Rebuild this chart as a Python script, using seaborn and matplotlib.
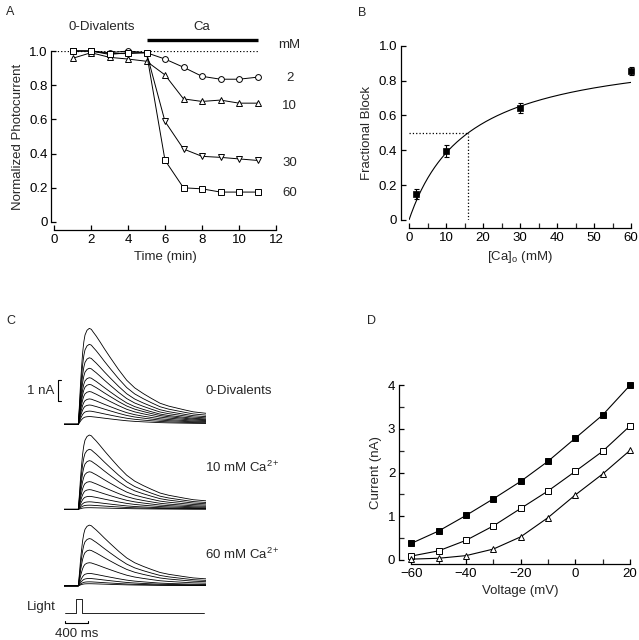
import numpy as np
import pandas as pd
import matplotlib
matplotlib.use("Agg")
import matplotlib.pyplot as plt
import seaborn as sns

# ---- Panel A: normalized photocurrent vs time ----
time_min = [1, 2, 3, 4, 5, 6, 7, 8, 9, 10, 11]
ca_2mM = [1.0, 1.0, 0.99, 1.0, 0.99, 0.953, 0.905, 0.852, 0.835, 0.835, 0.847]
ca_10mM = [0.957, 0.99, 0.963, 0.953, 0.94, 0.86, 0.72, 0.705, 0.713, 0.695, 0.695]
ca_30mM = [1.0, 1.0, 0.985, 0.985, 0.99, 0.588, 0.427, 0.384, 0.378, 0.369, 0.36]
ca_60mM = [1.0, 1.0, 0.98, 0.99, 0.99, 0.361, 0.2, 0.194, 0.175, 0.175, 0.175]
conc_labels = ["2", "10", "30", "60"]
conc_label_y = [0.84, 0.68, 0.345, 0.17]

# ---- Panel B: fractional block vs [Ca]o ----
ca_conc = [2, 10, 30, 60]
frac_block = [0.149, 0.398, 0.644, 0.855]
frac_err = [0.03, 0.035, 0.028, 0.025]
k_half = 16.0  # half-block concentration (mM) from the fit

# ---- Panel C: photocurrent families ----
# normalized response waveform
shape_t = [0, 249, 270, 290, 310, 325, 345, 365, 400, 440, 475, 510, 560, 626,
           700, 800, 950, 1090, 1230, 1380, 1520, 1670, 1820, 1960, 2100, 2250, 2470]
shape_frac = [0, 0, 0.22, 0.45, 0.63, 0.75, 0.86, 0.93, 0.98, 1.0, 0.99, 0.96, 0.92, 0.86,
              0.79, 0.70, 0.57, 0.46, 0.38, 0.32, 0.27, 0.22, 0.19, 0.17, 0.15, 0.13, 0.115]
peaks_0div = [4.57, 3.81, 3.17, 2.67, 2.22, 1.90, 1.56, 1.21, 0.92, 0.63, 0.37]
peaks_10ca = [3.54, 2.86, 2.32, 1.79, 1.32, 0.94, 0.62, 0.36, 0.20, 0.08]
peaks_60ca = [2.89, 2.25, 1.70, 1.10, 0.59, 0.35, 0.19, 0.10]
light_t = [17, 209, 209, 308, 308, 2440]
light_on = [0, 0, 1, 1, 0, 0]

# ---- Panel D: I-V relations ----
voltage = [-60, -50, -40, -30, -20, -10, 0, 10, 20]
iv_0div = [0.38, 0.664, 1.02, 1.40, 1.80, 2.26, 2.79, 3.32, 4.0]
iv_10ca = [0.09, 0.21, 0.45, 0.78, 1.18, 1.58, 2.03, 2.49, 3.07]
iv_60ca = [0.02, 0.04, 0.10, 0.25, 0.53, 0.97, 1.49, 1.97, 2.51]

sns.set_theme(style="ticks")
plt.rcParams["font.family"] = ["Liberation Sans", "DejaVu Sans"]
plt.rcParams["mathtext.fontset"] = "custom"
plt.rcParams["mathtext.rm"] = "Liberation Sans"
plt.rcParams["mathtext.it"] = "Liberation Sans"
plt.rcParams["xtick.direction"] = "in"
plt.rcParams["ytick.direction"] = "in"
plt.rcParams["axes.linewidth"] = 0.9
plt.rcParams["xtick.major.width"] = 0.9
plt.rcParams["ytick.major.width"] = 0.9
plt.rcParams["xtick.minor.width"] = 0.9
plt.rcParams["ytick.minor.width"] = 0.9
plt.rcParams["xtick.major.size"] = 3.5
plt.rcParams["ytick.major.size"] = 3.5
plt.rcParams["xtick.minor.size"] = 3.5
plt.rcParams["ytick.minor.size"] = 3.5
plt.rcParams["xtick.major.pad"] = 2.5
plt.rcParams["ytick.major.pad"] = 2.5

fs = 9.5
fig = plt.figure(figsize=(6.39, 6.40), dpi=100)
W, H = 639.0, 640.0


def px_axes(x0, y0, x1, y1):
    # axes from pixel corners (left, top, right, bottom) of the data area
    return fig.add_axes([x0 / W, 1 - y1 / H, (x1 - x0) / W, (y1 - y0) / H])


def style_ticks(ax):
    ax.tick_params(labelsize=fs, colors="black")
    for s in ax.spines.values():
        s.set_color("black")


# ---------------- A ----------------
axA = px_axes(54, 51, 276, 222)
axA.plot([0, 11], [1, 1], ls=":", lw=0.9, color="black")
series_A = [(ca_2mM, "o"), (ca_10mM, "^"), (ca_30mM, "v"), (ca_60mM, "s")]
for vals, mk in series_A:
    sns.lineplot(x=time_min, y=vals, ax=axA, color="black", lw=0.7, marker=mk,
                 markersize=4.2, markerfacecolor="white", markeredgecolor="black",
                 markeredgewidth=0.7, clip_on=False)
axA.set_xlim(0, 12)
axA.set_ylim(0, 1.0)
axA.set_xticks(range(0, 13, 2))
axA.set_yticks([0, 0.2, 0.4, 0.6, 0.8, 1.0])
axA.set_yticklabels(["0", "0.2", "0.4", "0.6", "0.8", "1.0"])
axA.set_xlabel("Time (min)", fontsize=fs)
axA.set_ylabel("Normalized Photocurrent", fontsize=fs)
sns.despine(ax=axA, offset={"left": 2, "bottom": 6})
style_ticks(axA)
axA.plot([5, 11], [1.064, 1.064], color="black", lw=2.4, clip_on=False,
         solid_capstyle="butt")
axA.text(2.6, 1.14, "0-Divalents", ha="center", va="center", fontsize=fs)
axA.text(8.0, 1.14, "Ca", ha="center", va="center", fontsize=fs)
axA.text(12.7, 1.035, "mM", ha="center", va="center", fontsize=fs)
for lab, yy in zip(conc_labels, conc_label_y):
    axA.text(12.75, yy, lab, ha="center", va="center", fontsize=fs)

# ---------------- B ----------------
axB = px_axes(409, 45.7, 631, 220)
ca_fit = np.linspace(0, 60, 200)
block_fit = ca_fit / (ca_fit + k_half)
sns.lineplot(x=ca_fit, y=block_fit, ax=axB, color="black", lw=0.8)
axB.plot([0, k_half], [0.5, 0.5], ls=":", lw=0.9, color="black")
axB.plot([k_half, k_half], [0, 0.5], ls=":", lw=0.9, color="black")
axB.errorbar(ca_conc, frac_block, yerr=frac_err, fmt="none", ecolor="black",
             elinewidth=0.8, capsize=1.8, capthick=0.8, clip_on=False)
sns.scatterplot(x=ca_conc, y=frac_block, ax=axB, marker="s", color="black",
                s=16, edgecolor="black", linewidth=0.5, clip_on=False, zorder=5)
axB.set_xlim(0, 60)
axB.set_ylim(0, 1.0)
axB.set_xticks(range(0, 61, 10))
axB.set_xticks(range(5, 60, 10), minor=True)
axB.set_yticks([0, 0.2, 0.4, 0.6, 0.8, 1.0])
axB.set_yticklabels(["0", "0.2", "0.4", "0.6", "0.8", "1.0"])
axB.set_xlabel("[Ca]$_{\\rm o}$ (mM)", fontsize=fs)
axB.set_ylabel("Fractional Block", fontsize=fs)
sns.despine(ax=axB, offset={"left": 6, "bottom": 6})
style_ticks(axB)

# ---------------- C ----------------
axC = px_axes(64, 325, 206, 640)
axC.set_xlim(0, 2470)
axC.set_ylim(-10.27, 4.73)
axC.axis("off")
families = [(peaks_0div, 0.0, "0-Divalents", 1.59),
            (peaks_10ca, -4.05, "10 mM Ca$^{2+}$", -2.03),
            (peaks_60ca, -7.69, "60 mM Ca$^{2+}$", -6.2)]
rows = []
for fi, (peaks, base, lab, ly) in enumerate(families):
    for ti, pk in enumerate(peaks):
        for t, f in zip(shape_t, shape_frac):
            rows.append({"t": t, "i": base + pk * f, "trace": f"{fi}-{ti}"})
    axC.text(2453, ly, lab, ha="left", va="center", fontsize=fs)
traces = pd.DataFrame(rows)
sns.lineplot(data=traces, x="t", y="i", units="trace", estimator=None,
             color="black", lw=0.6, ax=axC, sort=False)
light_base, light_h = -9.0, 0.67
axC.plot(light_t, [light_base + light_h * v for v in light_on], color="black", lw=0.6)
# scale bars
axC.plot([17, 17, 423, 423], [-9.37, -9.47, -9.47, -9.37], color="black", lw=0.8,
         clip_on=False)
axC.text(220, -9.98, "400 ms", ha="center", va="center", fontsize=fs)
axC.plot([-50, -99, -99, -50], [2.11, 2.11, 1.11, 1.11], color="black", lw=0.8,
         clip_on=False)
axC.text(-174, 1.6, "1 nA", ha="right", va="center", fontsize=fs)
axC.text(-139, -8.7, "Light", ha="right", va="center", fontsize=fs)

# ---------------- D ----------------
axD = px_axes(411.3, 385.3, 630, 560)
series_D = [(iv_0div, "s", "black", 4.0), (iv_10ca, "s", "white", 4.6),
            (iv_60ca, "^", "white", 4.0)]
for vals, mk, fc, ms in series_D:
    sns.lineplot(x=voltage, y=vals, ax=axD, color="black", lw=0.8, marker=mk,
                 markersize=ms, markerfacecolor=fc, markeredgecolor="black",
                 markeredgewidth=0.7, clip_on=False)
axD.set_xlim(-60, 20)
axD.set_ylim(0, 4)
axD.set_xticks(range(-60, 21, 20))
axD.set_xticks(range(-50, 20, 20), minor=True)
axD.set_yticks(range(0, 5))
axD.set_yticks([0.5, 1.5, 2.5, 3.5], minor=True)
axD.set_xlabel("Voltage (mV)", fontsize=fs)
axD.set_ylabel("Current (nA)", fontsize=fs)
sns.despine(ax=axD, offset={"left": 9, "bottom": 3})
style_ticks(axD)

# panel letters
for lab, x, y in [("A", 6, 12), ("B", 358, 13), ("C", 6, 321), ("D", 367, 321)]:
    fig.text(x / W, 1 - y / H, lab, ha="left", va="center", fontsize=9)

fig.savefig("out.png", dpi=100)
